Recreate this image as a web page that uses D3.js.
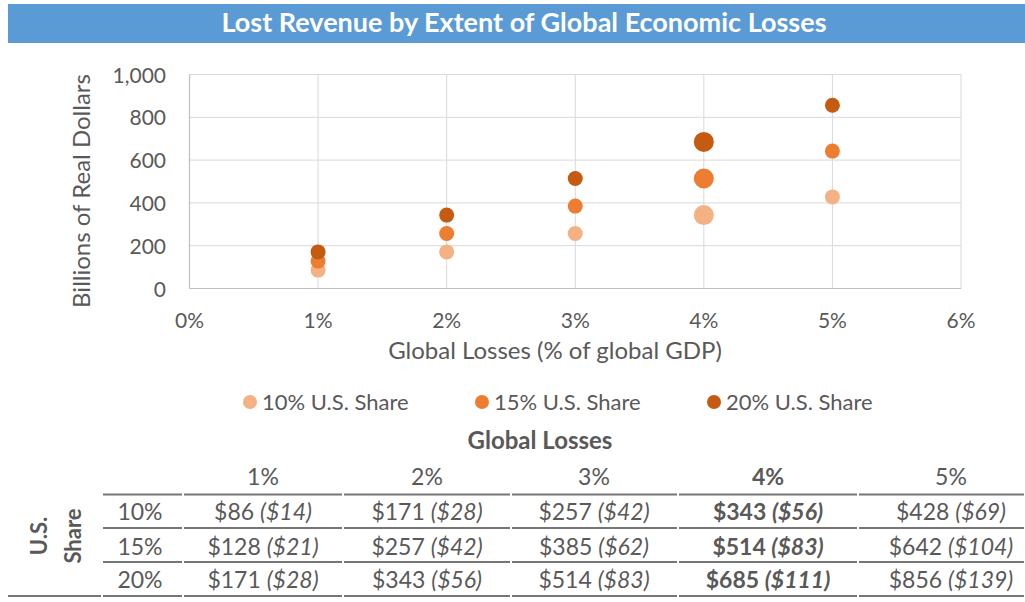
<!DOCTYPE html>
<html>
<head>
<meta charset="utf-8">
<script src="https://cdn.jsdelivr.net/npm/d3@7"></script>
<style>
  body { margin: 0; background: #fff; }
  svg text { font-family: Lato, "Open Sans", sans-serif; fill: #595959; }
</style>
</head>
<body>
<svg id="chart" width="1025" height="602"></svg>
<script>
// data
const globalLosses = [1, 2, 3, 4, 5];           // % of global GDP
const usShares = ["10%", "15%", "20%"];
const seriesNames = ["10% U.S. Share", "15% U.S. Share", "20% U.S. Share"];
const share10 = [86, 171, 257, 343, 428];
const share15 = [128, 257, 385, 514, 642];
const share20 = [171, 343, 514, 685, 856];
const paren10 = [14, 28, 42, 56, 69];
const paren15 = [21, 42, 62, 83, 104];
const paren20 = [28, 56, 83, 111, 139];
const highlightLoss = 4;
const xTicks = [0, 1, 2, 3, 4, 5, 6];
const yTicks = [0, 200, 400, 600, 800, 1000];

const colors = ["#F4B183", "#ED7D31", "#C55A11"];
const seriesVals = [share10, share15, share20];
const parenVals = [paren10, paren15, paren20];

const svg = d3.select("#chart");

// title bar
svg.append("rect").attr("x", 8).attr("y", 4).attr("width", 1017).attr("height", 39).attr("fill", "#5B9BD5");
svg.append("text").attr("x", 524).attr("y", 32).attr("text-anchor", "middle")
  .style("fill", "#fff").style("font-weight", "bold").style("font-size", "27px")
  .text("Lost Revenue by Extent of Global Economic Losses");

// scales
const x = d3.scaleLinear().domain([0, 6]).range([189.5, 961]);
const y = d3.scaleLinear().domain([0, 1000]).range([288.5, 74.5]);

const grid = svg.append("g");
grid.selectAll(".hg").data(yTicks).join("line")
  .attr("x1", x(0)).attr("x2", x(6)).attr("y1", d => y(d)).attr("y2", d => y(d))
  .attr("stroke", "#d9d9d9").attr("stroke-width", 1);
grid.selectAll(".vg").data(xTicks).join("line")
  .attr("x1", d => x(d)).attr("x2", d => x(d)).attr("y1", y(0)).attr("y2", y(1000))
  .attr("stroke", "#d9d9d9").attr("stroke-width", 1);
// axis lines
svg.append("line").attr("x1", x(0)).attr("x2", x(6)).attr("y1", y(0)).attr("y2", y(0)).attr("stroke", "#bfbfbf").attr("stroke-width", 1.2);
svg.append("line").attr("x1", x(0)).attr("x2", x(0)).attr("y1", y(0)).attr("y2", y(1000)).attr("stroke", "#bfbfbf").attr("stroke-width", 1.2);

// tick labels
svg.append("g").selectAll("text").data(yTicks).join("text")
  .attr("x", 166).attr("y", d => y(d) + 8).attr("text-anchor", "end")
  .style("font-size", "21px").text(d => d3.format(",")(d));
svg.append("g").selectAll("text").data(xTicks).join("text")
  .attr("x", d => x(d)).attr("y", 328).attr("text-anchor", "middle")
  .style("font-size", "21px").text(d => d + "%");

// axis titles
svg.append("text").attr("x", 555).attr("y", 359).attr("text-anchor", "middle")
  .style("font-size", "24px").text("Global Losses (% of global GDP)");
svg.append("text").attr("transform", "translate(90,191) rotate(-90)").attr("text-anchor", "middle")
  .style("font-size", "24px").text("Billions of Real Dollars");

// points
seriesVals.forEach((vals, si) => {
  svg.append("g").selectAll("circle").data(vals).join("circle")
    .attr("cx", (d, i) => x(globalLosses[i]))
    .attr("cy", d => y(d))
    .attr("r", (d, i) => globalLosses[i] === highlightLoss ? 10 : 7.5)
    .attr("fill", colors[si]);
});

// legend
const legendX = [250, 482, 714];
const legend = svg.append("g").selectAll("g").data(seriesNames).join("g")
  .attr("transform", (d, i) => `translate(${legendX[i]},402)`);
legend.append("circle").attr("r", 7).attr("fill", (d, i) => colors[i]);
legend.append("text").attr("x", 12).attr("y", 8).style("font-size", "22px").text(d => d);

// table
svg.append("text").attr("x", 540).attr("y", 449).attr("text-anchor", "middle")
  .style("font-size", "24px").style("font-weight", "bold").text("Global Losses");

const colEdges = [102, 183, 343, 511, 678, 858, 1025];
const colCenters = [263, 427, 594, 768, 951];
const rowBase = [520, 555, 588];
svg.append("g").selectAll("text").data(globalLosses).join("text")
  .attr("x", (d, i) => colCenters[i]).attr("y", 485).attr("text-anchor", "middle")
  .style("font-size", "23px").style("font-weight", d => d === highlightLoss ? "bold" : "normal")
  .text(d => d + "%");

// table rules (segmented per column, like a spreadsheet border)
[494.5, 528, 562].forEach(ly => {
  svg.append("g").selectAll("line").data(d3.pairs(colEdges)).join("line")
    .attr("x1", d => d[0] + 1).attr("x2", d => d[1] - 1).attr("y1", ly).attr("y2", ly)
    .attr("stroke", "#767676").attr("stroke-width", 2);
});
svg.append("g").selectAll("line").data(d3.pairs([7].concat(colEdges))).join("line")
  .attr("x1", d => d[0] + 1).attr("x2", d => d[1] - 1).attr("y1", 596).attr("y2", 596)
  .attr("stroke", "#767676").attr("stroke-width", 2);

// row labels
svg.append("g").selectAll("text").data(usShares).join("text")
  .attr("x", 140).attr("y", (d, i) => rowBase[i]).attr("text-anchor", "middle")
  .style("font-size", "23px").text(d => d);

const vlab = svg.append("text").attr("transform", "translate(0,536) rotate(-90)")
  .attr("text-anchor", "middle").style("font-size", "22px").style("font-weight", "bold");
vlab.append("tspan").attr("x", 0).attr("y", 47).text("U.S.");
vlab.append("tspan").attr("x", 0).attr("y", 81).text("Share");

// cells
seriesVals.forEach((vals, ri) => {
  const row = svg.append("g").selectAll("text").data(vals).join("text")
    .attr("x", (d, i) => colCenters[i]).attr("y", rowBase[ri]).attr("text-anchor", "middle")
    .style("font-size", "23px")
    .style("font-weight", (d, i) => globalLosses[i] === highlightLoss ? "bold" : "normal");
  row.append("tspan").text(d => "$" + d + " ");
  row.append("tspan").style("font-style", "italic").text((d, i) => "($" + parenVals[ri][i] + ")");
});
</script>
</body>
</html>
